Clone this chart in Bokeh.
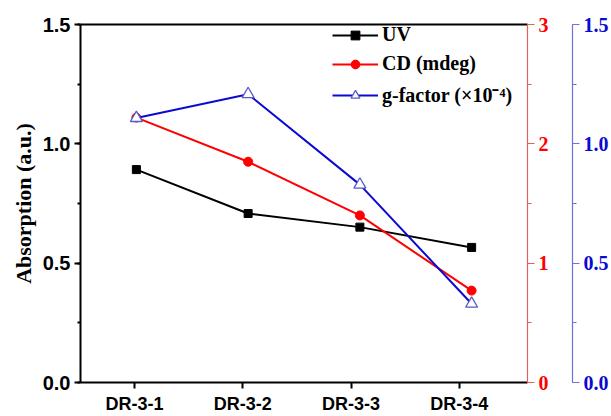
from bokeh.plotting import figure
from bokeh.models import (Range1d, LinearAxis, FixedTicker, SingleIntervalTicker,
                          NumeralTickFormatter, Legend, LegendItem)
from bokeh.embed import file_html
from bokeh.resources import INLINE

# Sample data
samples = ["DR-3-1", "DR-3-2", "DR-3-3", "DR-3-4"]
positions = [1, 2, 3, 4]
uv = [0.892, 0.708, 0.651, 0.566]          # absorption (a.u.)
cd = [2.22, 1.85, 1.40, 0.77]              # CD (mdeg)
g_factor = [1.108, 1.208, 0.829, 0.330]    # g-factor (x10^-4)

SANS = "Liberation Sans"
SERIF = "Liberation Serif"
RED = "#ff0000"
BLUE = "#0a0ad2"

p = figure(width=611, height=416, output_backend="svg", toolbar_location=None,
           x_range=Range1d(0.5, 4.5), y_range=Range1d(0, 1.5),
           x_axis_location=None, y_axis_location=None,
           min_border_left=80, min_border_right=84, min_border_top=24, min_border_bottom=32)
p.outline_line_color = None
p.xgrid.visible = False
p.ygrid.visible = False
p.background_fill_color = "white"
p.border_fill_color = "white"

p.extra_y_ranges = {"cd": Range1d(0, 3), "g": Range1d(0, 1.5)}
p.extra_x_ranges = {"ticks": Range1d(0.5, 4.63)}

# Left axis: absorption
left = LinearAxis(ticker=SingleIntervalTicker(interval=0.5, num_minor_ticks=2),
                  formatter=NumeralTickFormatter(format="0.0"),
                  axis_label="Absorption (a.u.)")
left.axis_line_width = 2
left.major_tick_line_width = 2
left.minor_tick_line_width = 2
left.major_tick_in = 0
left.major_tick_out = 6
left.minor_tick_in = 0
left.minor_tick_out = 3
left.major_label_standoff = 4
left.major_label_text_font = SANS
left.major_label_text_font_style = "bold"
left.major_label_text_font_size = "20px"
left.major_label_text_color = "black"
left.axis_label_text_font = SERIF
left.axis_label_text_font_style = "bold"
left.axis_label_text_font_size = "22px"
left.axis_label_text_color = "black"
left.axis_label_standoff = 4
p.add_layout(left, "left")

# Bottom axis: sample names
bottom = LinearAxis(x_range_name="ticks", ticker=FixedTicker(ticks=positions),
                    major_label_overrides={pos: name for pos, name in zip(positions, samples)})
bottom.axis_line_width = 2
bottom.major_tick_line_width = 2
bottom.major_tick_in = 0
bottom.major_tick_out = 6
bottom.minor_tick_line_color = None
bottom.major_label_standoff = 5
bottom.major_label_text_font = SANS
bottom.major_label_text_font_style = "bold"
bottom.major_label_text_font_size = "18px"
bottom.major_label_text_color = "black"
p.add_layout(bottom, "below")

# Top frame line
top = LinearAxis(x_range_name="ticks", ticker=FixedTicker(ticks=[]))
top.axis_line_width = 2
top.major_tick_line_color = None
top.minor_tick_line_color = None
top.major_label_text_font_size = "0px"
p.add_layout(top, "above")

# Right axis: CD
red_axis = LinearAxis(y_range_name="cd", ticker=SingleIntervalTicker(interval=1, num_minor_ticks=2),
                      formatter=NumeralTickFormatter(format="0"), axis_label=" ")
red_axis.axis_line_color = "#e06060"
red_axis.axis_line_width = 1.2
red_axis.major_tick_line_color = "#e06060"
red_axis.minor_tick_line_color = "#e06060"
red_axis.major_tick_line_width = 1.2
red_axis.minor_tick_line_width = 1.2
red_axis.major_tick_in = 0
red_axis.major_tick_out = 7
red_axis.minor_tick_in = 0
red_axis.minor_tick_out = 4
red_axis.major_label_standoff = 4
red_axis.major_label_text_font = SERIF
red_axis.major_label_text_font_style = "bold"
red_axis.major_label_text_font_size = "20px"
red_axis.major_label_text_color = RED
red_axis.axis_label_text_font_size = "14px"
red_axis.axis_label_standoff = 2
p.add_layout(red_axis, "right")

# Far-right axis: g-factor
blue_axis = LinearAxis(y_range_name="g", ticker=SingleIntervalTicker(interval=0.5, num_minor_ticks=2),
                       formatter=NumeralTickFormatter(format="0.0"))
blue_axis.axis_line_color = "#7070d8"
blue_axis.axis_line_width = 1.2
blue_axis.major_tick_line_color = "#7070d8"
blue_axis.minor_tick_line_color = "#7070d8"
blue_axis.major_tick_line_width = 1.2
blue_axis.minor_tick_line_width = 1.2
blue_axis.major_tick_in = 0
blue_axis.major_tick_out = 7
blue_axis.minor_tick_in = 0
blue_axis.minor_tick_out = 4
blue_axis.major_label_standoff = 4
blue_axis.major_label_text_font = SERIF
blue_axis.major_label_text_font_style = "bold"
blue_axis.major_label_text_font_size = "20px"
blue_axis.major_label_text_color = BLUE
p.add_layout(blue_axis, "right")

# Series
uv_line = p.line(positions, uv, line_color="black", line_width=2)
uv_pts = p.scatter(positions, uv, marker="square", size=8, fill_color="black", line_color="black")

cd_line = p.line(positions, cd, y_range_name="cd", line_color=RED, line_width=2)
cd_pts = p.scatter(positions, cd, y_range_name="cd", marker="circle", size=9,
                   fill_color=RED, line_color=RED)

g_line = p.line(positions, g_factor, y_range_name="g", line_color=BLUE, line_width=2)
g_pts = p.scatter(positions, g_factor, y_range_name="g", marker="triangle", size=12,
                  fill_color="white", line_color="#5a5ac8", line_width=1.3)

legend = Legend(items=[
    LegendItem(label="UV", renderers=[uv_line, uv_pts]),
    LegendItem(label="CD (mdeg)", renderers=[cd_line, cd_pts]),
    LegendItem(label="g-factor (×10⁻⁴)", renderers=[g_line, g_pts]),
], location=(252, 274))
legend.border_line_color = None
legend.background_fill_alpha = 0
legend.padding = 0
legend.margin = 0
legend.spacing = 6
legend.glyph_width = 46
legend.glyph_height = 22
legend.label_height = 22
legend.label_standoff = 4
legend.label_text_font = SERIF
legend.label_text_font_style = "bold"
legend.label_text_font_size = "20px"
legend.label_text_color = "black"
p.add_layout(legend, "center")

open("out.html", "w").write(file_html(p, INLINE))
